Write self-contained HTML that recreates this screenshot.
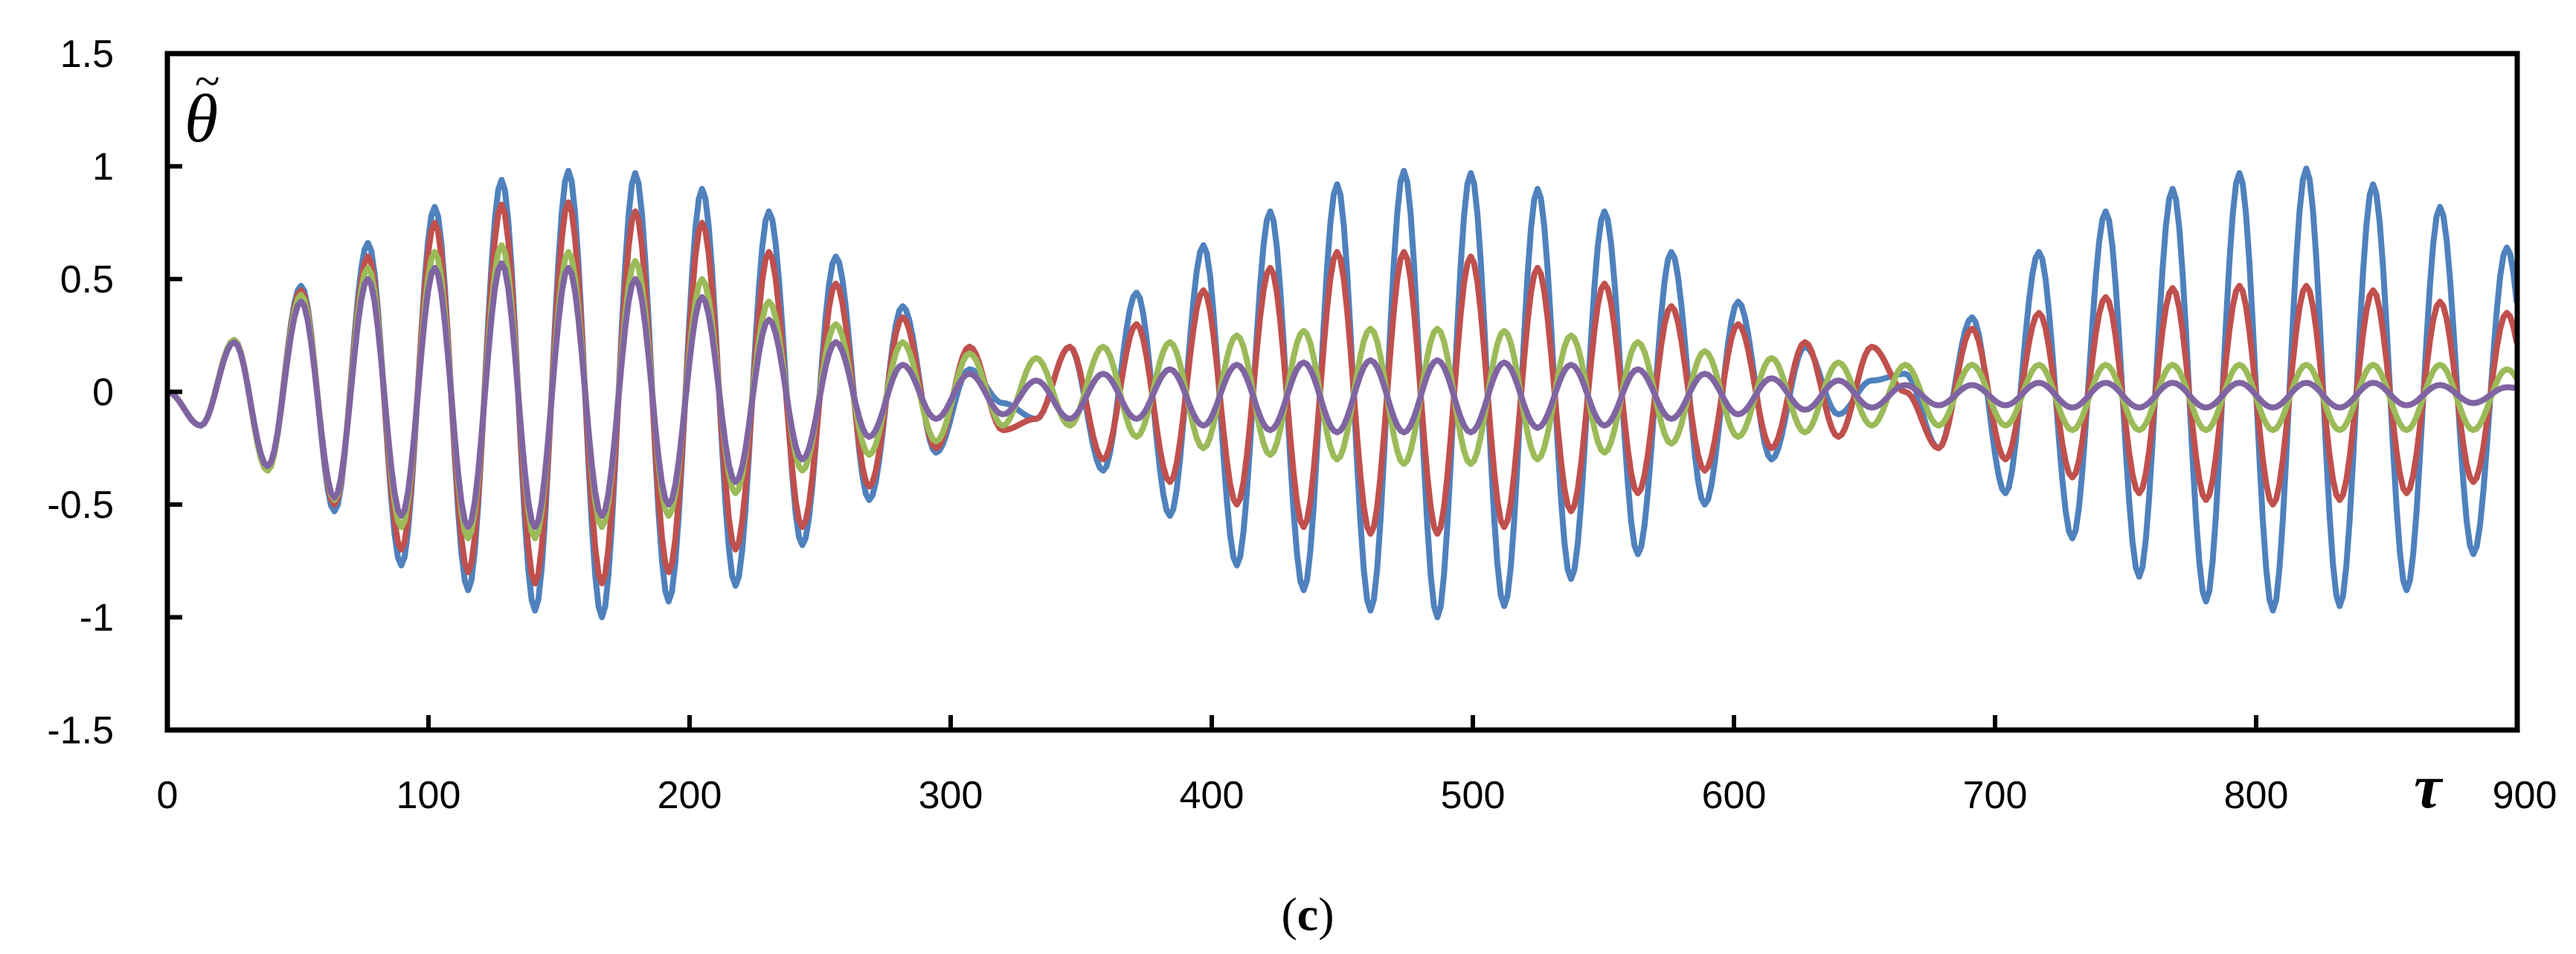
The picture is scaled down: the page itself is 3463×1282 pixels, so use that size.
<!DOCTYPE html>
<html><head><meta charset="utf-8"><style>
html,body{margin:0;padding:0;background:#fff;}
svg{display:block;}
</style></head><body>
<svg id="chart" width="3463" height="1282" viewBox="0 0 3463 1282" xmlns="http://www.w3.org/2000/svg">
<g id="series"></g>
<rect x="225" y="72" width="3159" height="909" fill="none" stroke="#000" stroke-width="7"/>
<g id="ticks"></g>
<text x="248" y="190" font-family="Liberation Serif, serif" font-style="italic" font-size="92">θ</text>
<text x="262" y="130" font-family="Liberation Serif, serif" font-size="62">~</text>
<text x="3245" y="1085" font-family="Liberation Serif, serif" font-style="italic" font-weight="bold" font-size="84">τ</text>
<text x="1758" y="1250" text-anchor="middle" font-family="Liberation Serif, serif" font-size="64">(<tspan font-weight="bold">c</tspan>)</text>
</svg>
<script>
const xTicks = [0,100,200,300,400,500,600,700,800,900];
const yTicks = [1.5,1,0.5,0,-0.5,-1,-1.5];
const halfPeriod = 12.8;
const blue = [0,-0.15,0.23,-0.35,0.47,-0.53,0.66,-0.77,0.82,-0.88,0.94,-0.97,0.98,-1.0,0.97,-0.93,0.9,-0.86,0.8,-0.68,0.6,-0.48,0.38,-0.27,0.1,-0.05,-0.12,0.2,-0.35,0.44,-0.55,0.65,-0.77,0.8,-0.88,0.92,-0.97,0.98,-1.0,0.97,-0.95,0.9,-0.83,0.8,-0.72,0.62,-0.5,0.4,-0.3,0.2,-0.1,0.05,0.08,-0.25,0.33,-0.45,0.62,-0.65,0.8,-0.82,0.9,-0.93,0.97,-0.97,0.99,-0.95,0.92,-0.88,0.82,-0.72,0.64,-0.55];
const red = [0,-0.15,0.23,-0.35,0.45,-0.5,0.6,-0.7,0.75,-0.8,0.83,-0.85,0.84,-0.85,0.8,-0.8,0.75,-0.7,0.62,-0.6,0.48,-0.42,0.33,-0.25,0.2,-0.17,-0.12,0.2,-0.3,0.3,-0.4,0.45,-0.5,0.55,-0.6,0.62,-0.63,0.62,-0.63,0.6,-0.6,0.55,-0.53,0.48,-0.45,0.38,-0.35,0.3,-0.25,0.22,-0.2,0.2,0.0,-0.25,0.28,-0.3,0.35,-0.38,0.42,-0.45,0.46,-0.48,0.47,-0.5,0.47,-0.48,0.45,-0.45,0.4,-0.4,0.35,-0.3];
const green = [0,-0.15,0.23,-0.35,0.43,-0.48,0.55,-0.6,0.62,-0.65,0.65,-0.65,0.62,-0.6,0.58,-0.55,0.5,-0.45,0.4,-0.35,0.3,-0.28,0.22,-0.22,0.17,-0.15,0.15,-0.15,0.2,-0.2,0.22,-0.25,0.25,-0.28,0.27,-0.3,0.28,-0.32,0.28,-0.32,0.27,-0.3,0.25,-0.27,0.22,-0.23,0.18,-0.2,0.15,-0.18,0.13,-0.15,0.12,-0.15,0.12,-0.15,0.12,-0.17,0.12,-0.17,0.12,-0.17,0.12,-0.17,0.12,-0.17,0.12,-0.17,0.12,-0.17,0.1,-0.1];
const purple = [0,-0.15,0.22,-0.33,0.4,-0.47,0.5,-0.55,0.55,-0.6,0.57,-0.6,0.55,-0.55,0.5,-0.5,0.42,-0.4,0.32,-0.3,0.22,-0.2,0.12,-0.12,0.08,-0.1,0.05,-0.12,0.08,-0.12,0.1,-0.15,0.12,-0.17,0.13,-0.18,0.14,-0.18,0.14,-0.18,0.13,-0.16,0.12,-0.15,0.1,-0.12,0.08,-0.1,0.06,-0.08,0.05,-0.07,0.03,-0.06,0.03,-0.06,0.04,-0.07,0.04,-0.07,0.04,-0.07,0.04,-0.07,0.04,-0.07,0.04,-0.06,0.03,-0.05,0.02,0];
const seriesList = [["series-blue",blue,"#4f81bd"],["series-red",red,"#c0504d"],["series-green",green,"#9bbb59"],["series-purple",purple,"#8064a2"]];

const X0=225,X1=3384,Y0=72,Y1=981;
const xs = t => X0 + (t-0)/(900-0)*(X1-X0);
const ys = v => Y1 - (v+1.5)/3*(Y1-Y0);
const NS="http://www.w3.org/2000/svg";
const sg=document.getElementById('series');
seriesList.forEach(([name,vals,color])=>{
  let d="";
  for(let k=0;k<vals.length-1;k++){
    const t0=k*halfPeriod, a=vals[k], b=vals[k+1];
    for(let s=0;s<=10;s++){
      const t=t0+s/10*halfPeriod; if(t>900) break;
      const v=a+(b-a)*(1-Math.cos(Math.PI*s/10))/2;
      d+=(d?"L":"M")+xs(t).toFixed(1)+","+ys(v).toFixed(1);
    }
  }
  const p=document.createElementNS(NS,'path');
  p.setAttribute('d',d);p.setAttribute('fill','none');p.setAttribute('stroke',color);
  p.setAttribute('stroke-width','8');p.setAttribute('stroke-linejoin','round');
  
  
  sg.appendChild(p);
});
const tg=document.getElementById('ticks');
xTicks.forEach(t=>{
  if(t>0&&t<900){const l=document.createElementNS(NS,'line');
  l.setAttribute('x1',xs(t));l.setAttribute('x2',xs(t));l.setAttribute('y1',Y1);l.setAttribute('y2',Y1-20);
  l.setAttribute('stroke','#000');l.setAttribute('stroke-width','6');
  
  
  tg.appendChild(l);}
  const tx=document.createElementNS(NS,'text');
  tx.setAttribute('x',t===900?xs(t)+10:xs(t));tx.setAttribute('y',1086);tx.setAttribute('text-anchor','middle');
  tx.setAttribute('font-family','Liberation Sans, sans-serif');tx.setAttribute('font-size','52');
  tx.textContent=t;
  
  
  tg.appendChild(tx);
});
yTicks.forEach(v=>{
  if(v<1.5&&v>-1.5){const l=document.createElementNS(NS,'line');
  l.setAttribute('x1',X0);l.setAttribute('x2',X0+20);l.setAttribute('y1',ys(v));l.setAttribute('y2',ys(v));
  l.setAttribute('stroke','#000');l.setAttribute('stroke-width','6');
  
  
  tg.appendChild(l);}
  const tx=document.createElementNS(NS,'text');
  tx.setAttribute('x',153);tx.setAttribute('y',ys(v)+18);tx.setAttribute('text-anchor','end');
  tx.setAttribute('font-family','Liberation Sans, sans-serif');tx.setAttribute('font-size','52');
  tx.textContent=v;
  
  
  tg.appendChild(tx);
});
</script>
</body></html>
